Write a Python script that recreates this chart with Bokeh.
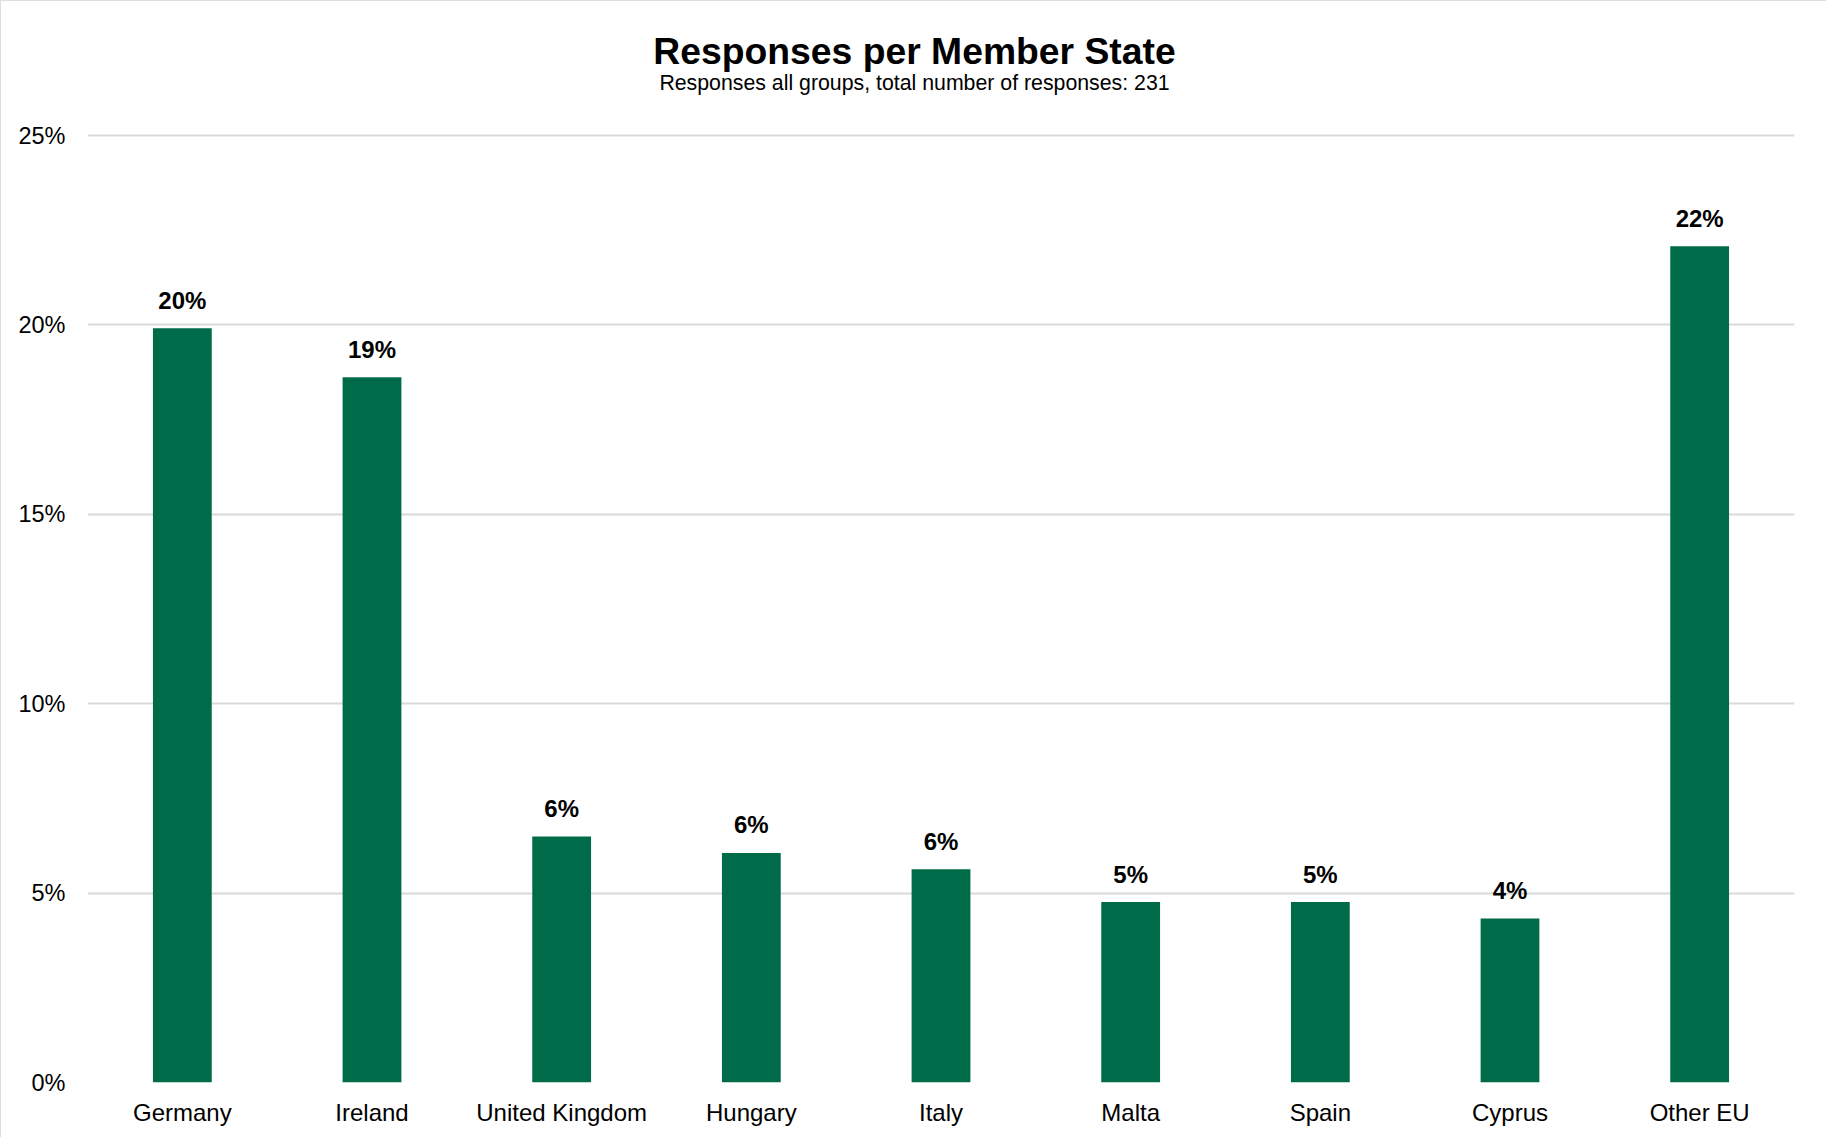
from bokeh.plotting import figure
from bokeh.models import ColumnDataSource, FactorRange, Range1d, FixedTicker, PrintfTickFormatter
from bokeh.embed import file_html
from bokeh.resources import INLINE
from bokeh.core.properties import value

# Data
countries = ["Germany", "Ireland", "United Kingdom", "Hungary", "Italy", "Malta", "Spain", "Cyprus", "Other EU"]
responses = [46, 43, 15, 14, 13, 11, 11, 10, 51]
total_responses = 231
y_ticks = [0, 5, 10, 15, 20, 25]
title_text = "Responses per Member State"
subtitle_text = f"Responses all groups, total number of responses: {total_responses}"

shares = [r / total_responses * 100 for r in responses]
share_labels = [f"{int(s + 0.5)}%" for s in shares]

source = ColumnDataSource(dict(country=countries, share=shares, label=share_labels))

FONT = "Liberation Sans"
BAR = "#006B48"
W, H = 1826, 1137
ML, MR = 86, 33

# layout in pixels
frame_bottom = 1081          # y of 0% from top of canvas
top_tick_px = 134            # y of 25% from top
px_per_unit = (frame_bottom - top_tick_px) / 25.0
y_end = frame_bottom / px_per_unit

p = figure(width=W, height=H, output_backend="svg", toolbar_location=None,
           x_range=FactorRange(*countries, range_padding=0),
           y_range=Range1d(0, y_end),
           min_border_left=ML, min_border_right=MR, min_border_top=0, min_border_bottom=H - frame_bottom,
           styles={"border-left": "1px solid #DEDEDE", "border-top": "1px solid #DEDEDE"})
p.outline_line_color = None
p.background_fill_color = "white"
p.border_fill_color = "white"

p.vbar(x="country", top="share", width=0.31, source=source, fill_color=BAR, line_color=None)
p.text(x="country", y="share", text="label", source=source, text_align="center",
       text_baseline="middle", y_offset=-28, text_font=value(FONT), text_font_style="bold",
       text_font_size="24px", text_color="black")

p.yaxis.ticker = FixedTicker(ticks=y_ticks)
p.yaxis.formatter = PrintfTickFormatter(format="%d%%")
for ax in (p.xaxis[0], p.yaxis[0]):
    ax.axis_line_color = None
    ax.major_tick_line_color = None
    ax.minor_tick_line_color = None
    ax.major_label_text_font = FONT
    ax.major_label_text_color = "black"
p.yaxis.major_label_text_font_size = "23.5px"
p.xaxis.major_label_text_font_size = "24px"
p.yaxis.major_label_standoff = 16
p.xaxis.major_label_standoff = 10

p.xgrid.grid_line_color = None
p.ygrid.grid_line_color = "#D9D9D9"
p.ygrid.grid_line_width = 2

# titles: centred on the canvas (between Hungary and Italy columns)
cat_px = (W - ML - MR) / len(countries)
canvas_center_off = (W / 2 - ML) - 4.5 * cat_px
p.text(x=[countries[4]], y=[(frame_bottom - 49) / px_per_unit], text=[title_text],
       x_offset=canvas_center_off, text_align="center", text_baseline="middle",
       text_font=value(FONT), text_font_style="bold", text_font_size="37.3px", text_color="black")
p.text(x=[countries[4]], y=[(frame_bottom - 81) / px_per_unit], text=[subtitle_text],
       x_offset=canvas_center_off, text_align="center", text_baseline="middle",
       text_font=value(FONT), text_font_size="21.3px", text_color="black")

open("out.html", "w").write(file_html(p, INLINE))
